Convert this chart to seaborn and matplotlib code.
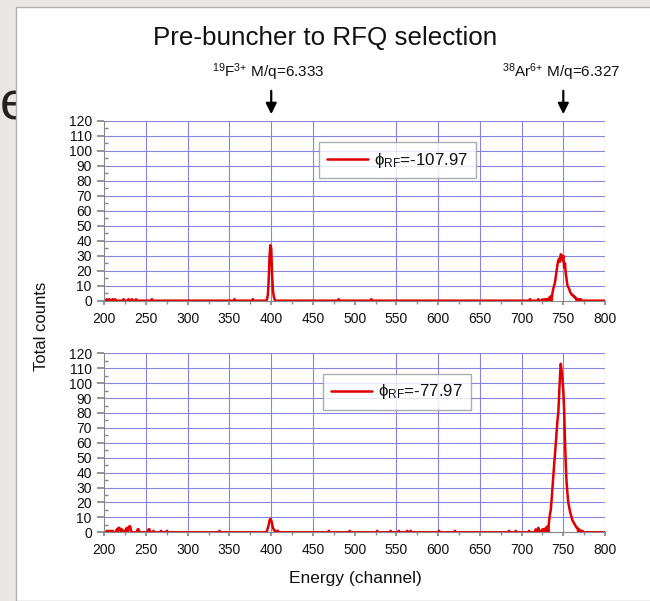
import numpy as np
import pandas as pd
import seaborn as sns
import matplotlib.pyplot as plt
from matplotlib.patches import Rectangle
from matplotlib.ticker import MultipleLocator

# Energy channels of the spectra
channels = np.arange(200, 801)

# Top spectrum (phi_RF = -107.97): non-zero channels and counts
top_ch = [203, 206, 210, 213, 223, 229, 233, 238, 257, 356, 378,
          395, 396, 397, 398, 399, 400, 401, 402, 403, 404,
          481, 520, 710, 720, 725, 728, 730, 733, 735, 737, 738, 739, 740,
          741, 742, 743, 744, 745, 746, 747, 748, 749, 750, 751, 752, 753,
          754, 755, 756, 757, 758, 759, 760, 761, 762, 763, 764, 765, 767,
          769, 771]
top_cnt = [1, 1, 1, 1, 1, 1, 1, 1, 1, 1, 1,
           1, 4, 14, 30, 37, 35, 18, 7, 3, 1,
           1, 1, 1, 1, 1, 1, 1, 2, 3, 5, 8, 10, 12,
           16, 20, 24, 27, 28, 26, 31, 30, 27, 30, 22, 25, 18,
           14, 10, 9, 8, 6, 5, 4, 4, 3, 3, 2, 2, 1,
           1, 1]

# Bottom spectrum (phi_RF = -77.97)
bot_ch = [203, 206, 208, 210, 215, 217, 218, 219, 221, 222, 224, 226, 227,
          229, 230, 231, 232, 240, 241, 253, 254, 259, 268, 275, 338,
          395, 396, 397, 398, 399, 400, 401, 402, 403, 404, 406, 408,
          469, 494, 527, 543, 553, 563, 567, 601, 620, 685, 693, 709, 717,
          720, 722, 725, 727, 729, 731, 733, 734, 735, 736, 737, 738, 739,
          740, 741, 742, 743, 744, 745, 746, 747, 748, 749, 750, 751, 752,
          753, 754, 755, 756, 757, 758, 759, 760, 761, 762, 763, 764, 765,
          766, 767, 769, 771, 773]
bot_cnt = [1, 1, 1, 1, 2, 3, 3, 2, 2, 1, 1, 2, 3,
           3, 4, 4, 1, 2, 2, 2, 2, 1, 1, 1, 1,
           1, 3, 5, 8, 9, 8, 6, 3, 2, 1, 1, 1,
           1, 1, 1, 1, 1, 1, 1, 1, 1, 1, 1, 1, 2,
           3, 1, 2, 2, 3, 4, 8, 12, 15, 22, 30, 38, 45,
           52, 60, 68, 75, 80, 92, 104, 113, 108, 103, 95, 82, 62,
           45, 33, 26, 20, 17, 14, 12, 10, 8, 7, 6, 5, 4,
           3, 3, 2, 1, 1]

labels = ["ϕ$_{\\mathrm{RF}}$=-107.97", "ϕ$_{\\mathrm{RF}}$=-77.97"]
ion_labels = [r"$^{19}$F$^{3{+}}$ M/q=6.333", r"$^{38}$Ar$^{6{+}}$ M/q=6.327"]
ion_channels = [400, 750]


def spectrum(ch, cnt):
    counts = np.zeros(len(channels))
    counts[np.array(ch) - 200] = cnt
    return pd.DataFrame({"channel": channels, "counts": counts})


sns.set_theme(style="white")
plt.rcParams["font.family"] = ["Liberation Sans", "DejaVu Sans"]
plt.rcParams["mathtext.fontset"] = "custom"
plt.rcParams["mathtext.rm"] = "Liberation Sans"
plt.rcParams["mathtext.it"] = "Liberation Sans:italic"
plt.rcParams["text.color"] = "#111111"

fig = plt.figure(figsize=(6.5, 6.01), dpi=100)
fig.patch.set_facecolor("#e9e7e4")

# slide page behind the chart
fig.text(0.0, 1 - 120 / 601, "e", fontsize=38, color="#222222", zorder=-3)
fig.patches.append(Rectangle((16 / 650, 0), 1, 1 - 7 / 601, transform=fig.transFigure,
                             facecolor="white", edgecolor="#b0b0b0", lw=1, zorder=-2))

red = "#e00000"
grid_col = "#8585e0"
axes = [fig.add_axes([0.1605, 0.4997, 0.7703, 0.299]),
        fig.add_axes([0.1605, 0.1143, 0.7703, 0.2978])]
data = [spectrum(top_ch, top_cnt), spectrum(bot_ch, bot_cnt)]
leg_pos = [(318.7 / 650, 1 - 142.3 / 601), (323 / 650, 1 - 374 / 601)]

for ax, df, lab, lp in zip(axes, data, labels, leg_pos):
    sns.lineplot(data=df, x="channel", y="counts", ax=ax, color=red, lw=1.8, label=lab)
    ax.set_xlim(200, 800)
    ax.set_ylim(0, 120)
    ax.xaxis.set_major_locator(MultipleLocator(50))
    ax.xaxis.set_minor_locator(MultipleLocator(25))
    ax.yaxis.set_major_locator(MultipleLocator(10))
    ax.yaxis.set_minor_locator(MultipleLocator(5))
    ax.grid(True, which="major", color=grid_col, lw=0.8)
    for t in ax.xaxis.get_major_ticks():
        if t.get_loc() in (200, 800):
            t.gridline.set_visible(False)
    for t in ax.yaxis.get_major_ticks():
        if t.get_loc() in (0, 120):
            t.gridline.set_visible(False)
    for s in ["top", "right"]:
        ax.spines[s].set_visible(False)
    for s in ["left", "bottom"]:
        ax.spines[s].set_color("#888888")
        ax.spines[s].set_linewidth(0.8)
    ax.tick_params(axis="y", which="major", direction="out", length=5, color="#888888",
                   labelsize=10, labelcolor="#111111", pad=4, left=True)
    ax.tick_params(axis="y", which="minor", direction="in", length=3, color="#888888", left=True)
    ax.tick_params(axis="x", which="major", direction="out", length=3, color="#888888",
                   labelsize=10, labelcolor="#111111", pad=5, bottom=True)
    ax.tick_params(axis="x", which="minor", direction="out", length=2, color="#888888", bottom=True)
    ax.set_xlabel("")
    ax.set_ylabel("")
    ax.patch.set_alpha(0)
    leg = ax.legend(loc="upper left", bbox_to_anchor=lp, bbox_transform=fig.transFigure,
                    fontsize=12.2, frameon=True, fancybox=False, edgecolor="#999999",
                    handlelength=2.4, borderpad=0.5, borderaxespad=0, handletextpad=0.35)
    leg.get_frame().set_linewidth(1.0)

# arrows and ion labels above the top spectrum
for ch, txt in zip(ion_channels, ion_labels):
    axes[0].annotate("", xy=(ch, 122.7), xytext=(ch, 142),
                     arrowprops=dict(arrowstyle="-|>", lw=1.6, color="black", mutation_scale=16),
                     annotation_clip=False)
    axes[0].text(ch - 3, 152.5, txt, ha="center", va="center", fontsize=11)

fig.text(0.5, 1 - 38 / 601, "Pre-buncher to RFQ selection", ha="center", va="center", fontsize=18.7)
fig.text(42 / 650, 1 - 326.5 / 601, "Total counts", rotation=90, ha="center", va="center", fontsize=12)
fig.text(355.5 / 650, 1 - 578 / 601, "Energy (channel)", ha="center", va="center", fontsize=12.5)

fig.savefig("out.png", dpi=100)
